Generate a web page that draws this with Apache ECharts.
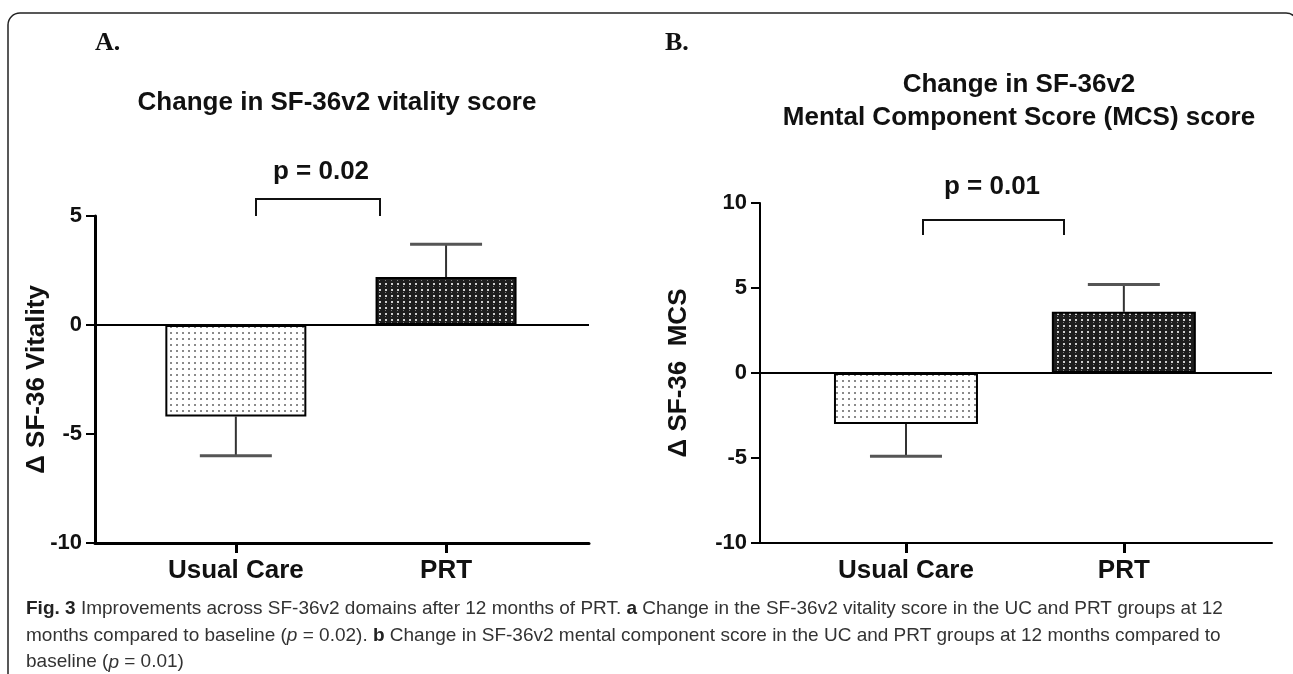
<!DOCTYPE html>
<html>
<head>
<meta charset="utf-8">
<script src="https://cdn.jsdelivr.net/npm/echarts@6/dist/echarts.min.js"></script>
<style>
  html, body { margin: 0; padding: 0; background: #fff; }
  #chart { width: 1293px; height: 674px; }
</style>
</head>
<body>
<div id="chart"></div>
<script>
  // groups on the x axis
  const categories = ['Usual Care', 'PRT']
  // A. change in vitality score (mean, error)
  const vitalityMean = [-4.2, 2.2]
  const vitalityErr = [1.8, 1.5]
  // B. change in MCS score (mean, error)
  const mcsMean = [-3.0, 3.6]
  const mcsErr = [1.9, 1.6]

  const FONT = "'Liberation Sans', Arial, sans-serif"
  const NARROW = "'Liberation Sans Narrow', 'Liberation Sans', Arial, sans-serif"

  // fill patterns like the prism graph
  function makePattern(bg, dots) {
    const c = document.createElement('canvas')
    c.width = 6
    c.height = 6
    const ctx = c.getContext('2d')
    ctx.fillStyle = bg
    ctx.fillRect(0, 0, 6, 6)
    dots.forEach(d => {
      ctx.fillStyle = d[4]
      ctx.fillRect(d[0], d[1], d[2], d[3])
    })
    return {image: c, repeat: 'repeat'}
  }
  const dotFill = makePattern('#ffffff', [[2, 2, 2, 2, '#8a8a8a']])
  const darkFill = makePattern('#1e1e1e', [[1, 1, 2, 2, '#d0d0d0'], [1, 4, 1, 1, '#808080']])
  const fills = [dotFill, darkFill]

  const chart = echarts.init(document.getElementById('chart'))

  function barData(means) {
    return means.map((v, i) => ({value: [i, v], itemStyle: {color: fills[i]}}))
  }

  function errData(means, errs) {
    return means.map((v, i) => [i, v, errs[i]])
  }

  function renderErr(params, api) {
    const x = api.value(0)
    const m = api.value(1)
    const e = api.value(2)
    const end = m < 0 ? m - e : m + e
    const p0 = api.coord([x, m])
    const p1 = api.coord([x, end])
    const half = 36
    return {
      type: 'group',
      children: [
        {type: 'line', shape: {x1: p0[0], y1: p0[1], x2: p1[0], y2: p1[1]}, style: {stroke: '#333', lineWidth: 2}},
        {type: 'line', shape: {x1: p1[0] - half, y1: p1[1], x2: p1[0] + half, y2: p1[1]}, style: {stroke: '#555', lineWidth: 3}}
      ]
    }
  }

  function xAxisCfg(idx, lw) {
    return {
      type: 'value',
      gridIndex: idx,
      min: -0.67,
      max: 1.68,
      axisLine: {onZero: false, lineStyle: {color: '#000', width: lw}},
      axisTick: {customValues: [0, 1], length: 10, lineStyle: {color: '#000', width: 3}},
      axisLabel: {
        customValues: [0, 1],
        margin: 15,
        formatter: v => categories[Math.round(v)],
        color: '#111',
        fontFamily: FONT,
        fontWeight: 'bold',
        fontSize: 26
      },
      splitLine: {show: false}
    }
  }

  function yAxisCfg(idx, min, max, name, gap, lw) {
    return {
      type: 'value',
      gridIndex: idx,
      min: min,
      max: max,
      interval: 5,
      name: name,
      nameLocation: 'middle',
      nameRotate: 90,
      nameGap: gap,
      nameMoveOverlap: false,
      nameTextStyle: {color: '#111', fontFamily: FONT, fontWeight: 'bold', fontSize: 26},
      axisLine: {onZero: false, lineStyle: {color: '#000', width: lw}},
      axisTick: {length: 9, lineStyle: {color: '#000', width: 2}},
      axisLabel: {margin: 13, color: '#111', fontFamily: FONT, fontWeight: 'bold', fontSize: 22},
      splitLine: {show: false}
    }
  }

  const zeroLine = {
    silent: true,
    symbol: ['none', 'none'],
    label: {show: false},
    lineStyle: {color: '#000', width: 2, type: 'solid'},
    data: [{yAxis: 0}]
  }

  chart.setOption({
    animation: false,
    grid: [
      {left: 95, top: 216, width: 494, height: 327},
      {left: 760, top: 203, width: 512, height: 340}
    ],
    xAxis: [xAxisCfg(0, 3), xAxisCfg(1, 2)],
    yAxis: [
      yAxisCfg(0, -10, 5, 'Δ SF-36 Vitality', 45, 3),
      yAxisCfg(1, -10, 10, 'Δ SF-36  MCS', 68, 2)
    ],
    series: [
      {
        type: 'bar', xAxisIndex: 0, yAxisIndex: 0, barWidth: 141,
        itemStyle: {borderColor: '#000', borderWidth: 2},
        data: barData(vitalityMean), markLine: zeroLine
      },
      {
        type: 'custom', xAxisIndex: 0, yAxisIndex: 0, renderItem: renderErr,
        encode: {x: 0, y: 1}, data: errData(vitalityMean, vitalityErr), z: 1
      },
      {
        type: 'bar', xAxisIndex: 1, yAxisIndex: 1, barWidth: 144,
        itemStyle: {borderColor: '#000', borderWidth: 2},
        data: barData(mcsMean), markLine: zeroLine
      },
      {
        type: 'custom', xAxisIndex: 1, yAxisIndex: 1, renderItem: renderErr,
        encode: {x: 0, y: 1}, data: errData(mcsMean, mcsErr), z: 1
      }
    ],
    graphic: [
      // frame
      {type: 'rect', shape: {x: 8, y: 13, width: 1290, height: 700, r: [12, 12, 0, 0]},
        style: {fill: 'none', stroke: '#222', lineWidth: 1.5}, silent: true},
      // panel letters
      {type: 'text', x: 95, y: 43, style: {text: 'A.', font: "bold 26px 'Liberation Serif', serif", fill: '#111', verticalAlign: 'middle'}},
      {type: 'text', x: 665, y: 43, style: {text: 'B.', font: "bold 26px 'Liberation Serif', serif", fill: '#111', verticalAlign: 'middle'}},
      // panel titles
      {type: 'text', x: 337, y: 103, style: {text: 'Change in SF-36v2 vitality score', font: 'bold 26px ' + FONT, fill: '#111', align: 'center', verticalAlign: 'middle'}},
      {type: 'text', x: 1019, y: 85, style: {text: 'Change in SF-36v2', font: 'bold 26px ' + FONT, fill: '#111', align: 'center', verticalAlign: 'middle'}},
      {type: 'text', x: 1019, y: 118, style: {text: 'Mental Component Score (MCS) score', font: 'bold 26px ' + FONT, fill: '#111', align: 'center', verticalAlign: 'middle'}},
      // significance brackets
      {type: 'text', x: 321, y: 172, style: {text: 'p = 0.02', font: 'bold 26px ' + FONT, fill: '#111', align: 'center', verticalAlign: 'middle'}},
      {type: 'polyline', shape: {points: [[256, 216], [256, 199], [380, 199], [380, 216]]}, style: {stroke: '#111', lineWidth: 2, fill: 'none'}},
      {type: 'text', x: 992, y: 187, style: {text: 'p = 0.01', font: 'bold 26px ' + FONT, fill: '#111', align: 'center', verticalAlign: 'middle'}},
      {type: 'polyline', shape: {points: [[923, 235], [923, 220], [1064, 220], [1064, 235]]}, style: {stroke: '#111', lineWidth: 2, fill: 'none'}},
      // figure caption
      {
        type: 'text', x: 26, y: 596,
        style: {
          text: '{b|Fig. 3} Improvements across SF-36v2 domains after 12 months of PRT. {b|a} Change in the SF-36v2 vitality score in the UC and PRT groups at 12\n' +
            'months compared to baseline ({i|p} = 0.02). {b|b} Change in SF-36v2 mental component score in the UC and PRT groups at 12 months compared to\n' +
            'baseline ({i|p} = 0.01)',
          font: '19px ' + NARROW,
          fill: '#333',
          lineHeight: 26.5,
          rich: {
            b: {fontWeight: 'bold', fontFamily: NARROW, fontSize: 19, fill: '#222', lineHeight: 26.5},
            i: {fontStyle: 'italic', fontFamily: NARROW, fontSize: 19, fill: '#333', lineHeight: 26.5}
          }
        }
      }
    ]
  })
</script>
</body>
</html>
